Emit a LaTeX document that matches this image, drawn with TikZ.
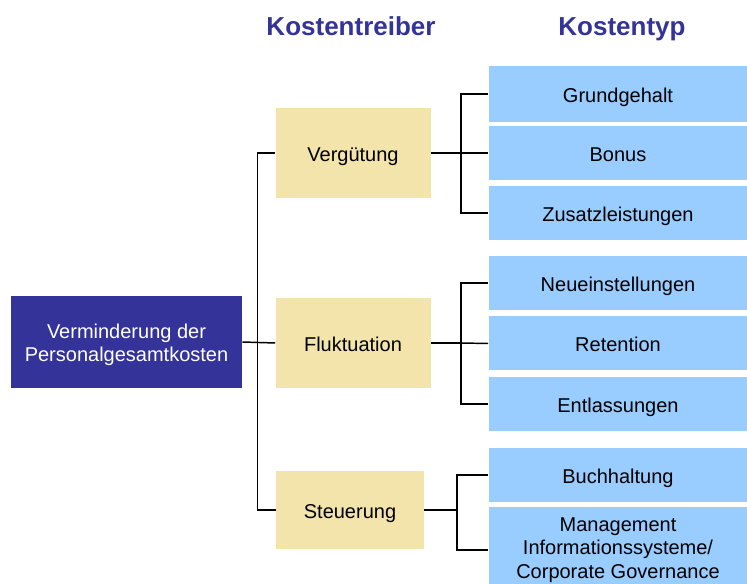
\documentclass[tikz,border=0pt]{standalone}
\usepackage{fontspec}
\setmainfont{Liberation Sans}
\definecolor{zielblau}{HTML}{333399}
\definecolor{treiber}{HTML}{F2E4AA}
\definecolor{typblau}{HTML}{99CCFF}
\begin{document}
\begin{tikzpicture}[x=0.75pt,y=-0.75pt]
		\tikzstyle{kopf} = [font=\fontsize{19.5}{22}\selectfont\bfseries,text=zielblau,anchor=base]
		\tikzstyle{zielbox} = [rectangle,fill=zielblau,text=white,align=center,inner sep=0pt,font=\fontsize{15}{17.5}\selectfont]
		\tikzstyle{treiberbox} = [rectangle,fill=treiber,inner sep=0pt,minimum width=155*0.75pt,text height=12.5pt,text depth=0pt,font=\fontsize{15}{17.5}\selectfont]
		\tikzstyle{typbox} = [rectangle,fill=typblau,inner sep=0pt,minimum width=259*0.75pt,minimum height=54*0.75pt,text height=12.5pt,text depth=0pt,font=\fontsize{15}{17.5}\selectfont]
		\tikzstyle{linie} = [line width=1.1pt]
		\useasboundingbox (0,0) rectangle (747,584);
		\node[kopf] (kt) at (351,36) {Kostentreiber};
		\node[kopf] (ty) at (622,36) {Kostentyp};
		\node[zielbox,minimum width=231*0.75pt,minimum height=92*0.75pt,text height=32.5pt] (ziel) at (126.5,342) {Verminderung der\\Personalgesamtkosten};
		\node[treiberbox,minimum height=90*0.75pt] (verg) at (353,153) {Vergütung};
		\node[treiberbox,minimum height=90*0.75pt] (flukt) at (353,343) {Fluktuation};
		\node[treiberbox,minimum width=148*0.75pt,minimum height=78*0.75pt] (steu) at (350,510) {Steuerung};
		\node[typbox,minimum height=56*0.75pt] (grund) at (618,94) {Grundgehalt};
		\node[typbox] (bonus) at (618,153) {Bonus};
		\node[typbox] (zusatz) at (618,213) {Zusatzleistungen};
		\node[typbox] (neu) at (618,283) {Neueinstellungen};
		\node[typbox] (ret) at (618,343.5) {Retention};
		\node[typbox] (entl) at (618,404) {Entlassungen};
		\node[typbox] (buch) at (618,475) {Buchhaltung};
		\node[zielbox,fill=typblau,text=black,minimum width=259*0.75pt,minimum height=86*0.75pt] (mis) at (618,550) {Management\\Informationssysteme/\\Corporate Governance};
		% Stamm links
		\draw[linie] (verg.west) -- ++(-18,0) |- (steu.west);
		\draw[linie] (ziel.east) -- (flukt.west);
		% Klammern rechts
		\coordinate (k1) at (461,153);
		\coordinate (k2) at (461,343);
		\coordinate (k3) at (457,510);
		\draw[linie] (verg.east) -- (k1);
		\draw[linie] (grund.west) -| (k1) |- (zusatz.west);
		\draw[linie] (k1) -- (bonus.west);
		\draw[linie] (flukt.east) -- (k2);
		\draw[linie] (neu.west) -| (k2) |- (entl.west);
		\draw[linie] (k2) -- (ret.west);
		\draw[linie] (steu.east) -- (k3);
		\draw[linie] (buch.west) -| (k3) |- (mis.west);
	\end{tikzpicture}
\end{document}
